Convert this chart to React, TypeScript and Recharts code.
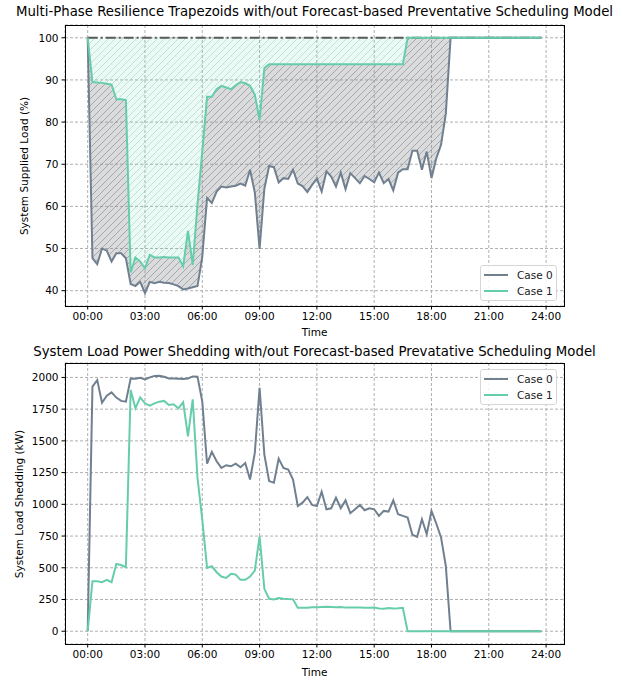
import React from 'react';
import { ComposedChart, Line, Area, XAxis, YAxis, CartesianGrid } from 'recharts';

const TIMES = [
  "00:00","00:15","00:30","00:45","01:00","01:15","01:30","01:45",
  "02:00","02:15","02:30","02:45","03:00","03:15","03:30","03:45",
  "04:00","04:15","04:30","04:45","05:00","05:15","05:30","05:45",
  "06:00","06:15","06:30","06:45","07:00","07:15","07:30","07:45",
  "08:00","08:15","08:30","08:45","09:00","09:15","09:30","09:45",
  "10:00","10:15","10:30","10:45","11:00","11:15","11:30","11:45",
  "12:00","12:15","12:30","12:45","13:00","13:15","13:30","13:45",
  "14:00","14:15","14:30","14:45","15:00","15:15","15:30","15:45",
  "16:00","16:15","16:30","16:45","17:00","17:15","17:30","17:45",
  "18:00","18:15","18:30","18:45","19:00","19:15","19:30","19:45",
  "20:00","20:15","20:30","20:45","21:00","21:15","21:30","21:45",
  "22:00","22:15","22:30","22:45","23:00","23:15","23:30","23:45",
];

const X_TICKS = [0, 3, 6, 9, 12, 15, 18, 21, 24];
const SUPPLY_TICKS = [40, 50, 60, 70, 80, 90, 100];
const SHED_TICKS = [0, 250, 500, 750, 1000, 1250, 1500, 1750, 2000];
const SERIES_NAMES = ["Case 0", "Case 1"];
const FULL_SUPPLY = 100;

// System supplied load (%)
const SUPPLY_CASE0 = [
  100, 47.7, 46.3, 50.0, 49.5, 46.9, 48.9, 48.9, 47.7, 41.6, 41.1, 42.1,
  39.4, 42.1, 41.8, 42.1, 41.9, 41.8, 41.5, 41.1, 40.3, 40.5, 40.8, 41.1,
  48.0, 62.0, 60.8, 63.5, 64.7, 64.5, 64.7, 64.9, 65.4, 64.9, 68.7, 63.3,
  49.9, 64.2, 69.6, 69.3, 65.7, 66.7, 66.5, 68.7, 65.4, 64.8, 63.4, 65.1,
  66.6, 63.5, 68.3, 67.1, 64.7, 68.0, 64.1, 67.9, 66.7, 65.5, 67.2, 66.5,
  65.7, 68.0, 65.5, 66.5, 63.8, 68.0, 68.8, 68.8, 73.2, 73.2, 68.7, 73.0,
  66.7, 71.4, 74.6, 82.0, 100, 100, 100, 100, 100, 100, 100, 100,
  100, 100, 100, 100, 100, 100, 100, 100, 100, 100, 100, 100,
];
const SUPPLY_CASE1 = [
  100, 89.5, 89.4, 89.3, 89.1, 88.9, 85.4, 85.4, 85.2, 44.3, 47.9, 46.9,
  45.3, 48.5, 47.9, 47.9, 48.0, 47.9, 47.9, 47.9, 45.8, 54.2, 46.1, 60.5,
  73.0, 86.0, 86.0, 87.8, 88.6, 88.2, 87.8, 88.7, 89.5, 89.2, 88.6, 86.5,
  80.5, 92.8, 93.7, 93.7, 93.7, 93.7, 93.7, 93.7, 93.7, 93.7, 93.7, 93.7,
  93.7, 93.7, 93.7, 93.7, 93.7, 93.7, 93.7, 93.7, 93.7, 93.7, 93.7, 93.7,
  93.7, 93.7, 93.7, 93.7, 93.7, 93.7, 93.7, 100, 100, 100, 100, 100,
  100, 100, 100, 100, 100, 100, 100, 100, 100, 100, 100, 100,
  100, 100, 100, 100, 100, 100, 100, 100, 100, 100, 100, 100,
];

// System load shedding (kW)
const SHED_CASE0 = [
  0, 1927, 1979, 1800, 1856, 1882, 1841, 1815, 1809, 1992, 1990, 1997,
  1984, 2000, 2012, 2013, 2005, 1992, 1992, 1990, 1987, 1992, 2008, 2005,
  1809, 1320, 1413, 1339, 1287, 1308, 1300, 1321, 1292, 1326, 1196, 1405,
  1919, 1392, 1183, 1170, 1360, 1287, 1274, 1196, 987, 1013, 1057, 995,
  987, 1100, 961, 969, 1052, 969, 1031, 930, 961, 995, 953, 969,
  961, 909, 948, 943, 1031, 922, 909, 896, 760, 744, 883, 765,
  948, 849, 739, 515, 0, 0, 0, 0, 0, 0, 0, 0,
  0, 0, 0, 0, 0, 0, 0, 0, 0, 0, 0, 0,
];
const SHED_CASE1 = [
  0, 394, 394, 386, 405, 386, 530, 522, 504, 1901, 1757, 1843,
  1796, 1778, 1796, 1809, 1815, 1783, 1789, 1757, 1804, 1535, 1827, 1208,
  880, 499, 512, 465, 431, 420, 452, 446, 405, 405, 431, 478,
  747, 334, 256, 251, 261, 256, 253, 251, 185, 185, 185, 188,
  188, 190, 192, 190, 188, 190, 186, 186, 186, 186, 185, 185,
  186, 180, 178, 183, 180, 182, 185, 0, 0, 0, 0, 0,
  0, 0, 0, 0, 0, 0, 0, 0, 0, 0, 0, 0,
  0, 0, 0, 0, 0, 0, 0, 0, 0, 0, 0, 0,
];

const C0 = '#708090';
const C1 = '#66cdaa';
const FONT = "'DejaVu Sans', sans-serif";

const toHour = (t: string) => {
  const [h, m] = t.split(':').map(Number);
  return h + m / 60;
};
const fmt = (h: number) => `${String(h).padStart(2, '0')}:00`;

const supplyData = TIMES.map((t, i) => ({
  h: toHour(t),
  c0: SUPPLY_CASE0[i],
  c1: SUPPLY_CASE1[i],
  base: FULL_SUPPLY,
  grayBand: [SUPPLY_CASE0[i], SUPPLY_CASE1[i]],
  greenBand: [SUPPLY_CASE1[i], FULL_SUPPLY],
}));

const shedData = TIMES.map((t, i) => ({
  h: toHour(t),
  c0: SHED_CASE0[i],
  c1: SHED_CASE1[i],
}));

const tickStyle = { fontSize: 10.5, fill: '#000', fontFamily: FONT };
const X_DOMAIN: [number, number] = [-1.1875, 24.9375];

function LegendBox({ left, top }: { left: number; top: number }) {
  const colors = [C0, C1];
  return (
    <div
      style={{
        position: 'absolute', left, top, width: 77, height: 36,
        border: '1px solid #d6d6d6', borderRadius: 3, boxSizing: 'border-box',
        background: 'rgba(255,255,255,0.85)', fontSize: 10.5, fontFamily: FONT,
      }}
    >
      {SERIES_NAMES.map((n, i) => (
        <div key={n} style={{ position: 'absolute', left: 3, top: 2 + i * 16, height: 14, display: 'flex', alignItems: 'center', whiteSpace: 'nowrap' }}>
          <span style={{ display: 'inline-block', width: 24, height: 2, background: colors[i], marginRight: 9 }} />
          <span style={{ color: '#222' }}>{n}</span>
        </div>
      ))}
    </div>
  );
}

const textAbs = (left: number, top: number, size: number, rotate = false): React.CSSProperties => ({
  position: 'absolute', left, top, fontSize: size, fontFamily: FONT, color: '#000',
  whiteSpace: 'nowrap', lineHeight: 1,
  transform: rotate ? 'translate(-50%,-50%) rotate(-90deg)' : 'translate(-50%,-50%)',
});

function Frame({ left, top, width, height }: { left: number; top: number; width: number; height: number }) {
  return (
    <div style={{ position: 'absolute', left, top, width, height, border: '1px solid #000', boxSizing: 'border-box', pointerEvents: 'none' }} />
  );
}

export default function App() {
  return (
    <div style={{ position: 'relative', width: 629, height: 679, background: '#fff', fontFamily: FONT }}>
      <style>{'body{margin:0;background:#fff}'}</style>

      <div style={{ position: 'absolute', left: 0, top: 0 }}>
        <ComposedChart width={629} height={340} data={supplyData} margin={{ top: 25, right: 65, left: 5, bottom: 4 }}>
          <defs>
            <pattern id="hatchGray" patternUnits="userSpaceOnUse" width="7" height="7">
              <rect width="7" height="7" fill="#8a8a8a" fillOpacity={0.3} />
              <path d="M-1,1 l2,-2 M0,7 l7,-7 M6,8 l2,-2" stroke="#8a93a3" strokeWidth={1} strokeOpacity={0.7} />
            </pattern>
            <pattern id="hatchGreen" patternUnits="userSpaceOnUse" width="7" height="7">
              <rect width="7" height="7" fill="#66cdaa" fillOpacity={0.12} />
              <path d="M-1,1 l2,-2 M0,7 l7,-7 M6,8 l2,-2" stroke="#66cdaa" strokeWidth={0.9} strokeOpacity={0.45} />
            </pattern>
          </defs>
          <CartesianGrid stroke="#b0b0b0" strokeDasharray="3 2" />
          <XAxis dataKey="h" type="number" domain={X_DOMAIN} ticks={X_TICKS} tickFormatter={fmt}
            allowDataOverflow axisLine={false} tickLine={{ stroke: '#000' }} tickSize={3.5} tickMargin={3}
            tick={tickStyle} height={30} interval={0} />
          <YAxis type="number" domain={[36.37, 103.03]} ticks={SUPPLY_TICKS} allowDataOverflow
            axisLine={false} tickLine={{ stroke: '#000' }} tickSize={3.5} tickMargin={3} tick={tickStyle} width={60} interval={0} />
          <Area type="linear" dataKey="grayBand" stroke="none" fill="url(#hatchGray)" fillOpacity={1} isAnimationActive={false} dot={false} activeDot={false} />
          <Area type="linear" dataKey="greenBand" stroke="none" fill="url(#hatchGreen)" fillOpacity={1} isAnimationActive={false} dot={false} activeDot={false} />
          <Line type="linear" dataKey="base" stroke="#5a5a5a" strokeWidth={2} strokeDasharray="10 3 2 3" dot={false} activeDot={false} isAnimationActive={false} />
          <Line type="linear" dataKey="c0" name="Case 0" stroke={C0} strokeWidth={2} dot={false} activeDot={false} isAnimationActive={false} />
          <Line type="linear" dataKey="c1" name="Case 1" stroke={C1} strokeWidth={2} dot={false} activeDot={false} isAnimationActive={false} />
        </ComposedChart>
      </div>

      <div style={{ position: 'absolute', left: 0, top: 340 }}>
        <ComposedChart width={629} height={339} data={shedData} margin={{ top: 23, right: 65, left: 5, bottom: 5 }}>
          <CartesianGrid stroke="#b0b0b0" strokeDasharray="3 2" />
          <XAxis dataKey="h" type="number" domain={X_DOMAIN} ticks={X_TICKS} tickFormatter={fmt}
            allowDataOverflow axisLine={false} tickLine={{ stroke: '#000' }} tickSize={3.5} tickMargin={3}
            tick={tickStyle} height={30} interval={0} />
          <YAxis type="number" domain={[-100.65, 2113.65]} ticks={SHED_TICKS} allowDataOverflow
            axisLine={false} tickLine={{ stroke: '#000' }} tickSize={3.5} tickMargin={3} tick={tickStyle} width={60} interval={0} />
          <Line type="linear" dataKey="c0" name="Case 0" stroke={C0} strokeWidth={2} dot={false} activeDot={false} isAnimationActive={false} />
          <Line type="linear" dataKey="c1" name="Case 1" stroke={C1} strokeWidth={2} dot={false} activeDot={false} isAnimationActive={false} />
        </ComposedChart>
      </div>

      <Frame left={65} top={25} width={500} height={282} />
      <Frame left={65} top={363} width={500} height={282} />

      <div style={textAbs(314.5, 12, 13.3)}>Multi-Phase Resilience Trapezoids with/out Forecast-based Preventative Scheduling Model</div>
      <div style={textAbs(314.5, 352, 13.3)}>System Load Power Shedding with/out Forecast-based Prevatative Scheduling Model</div>
      <div style={textAbs(314.5, 332, 10.5)}>Time</div>
      <div style={textAbs(314.5, 672, 10.5)}>Time</div>
      <div style={textAbs(24, 165.5, 10.5, true)}>System Supplied Load (%)</div>
      <div style={textAbs(18.5, 503.5, 10.5, true)}>System Load Shedding (kW)</div>

      <LegendBox left={480} top={265} />
      <LegendBox left={480} top={369} />
    </div>
  );
}
